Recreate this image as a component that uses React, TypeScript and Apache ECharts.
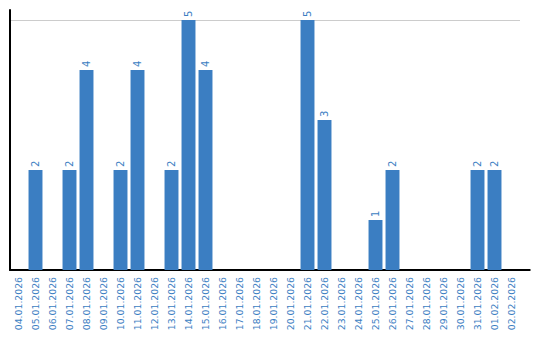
import React, { useEffect, useRef } from "react";
import * as echarts from "echarts";

const categories = [
  "04.01.2026", "05.01.2026", "06.01.2026", "07.01.2026", "08.01.2026",
  "09.01.2026", "10.01.2026", "11.01.2026", "12.01.2026", "13.01.2026",
  "14.01.2026", "15.01.2026", "16.01.2026", "17.01.2026", "18.01.2026",
  "19.01.2026", "20.01.2026", "21.01.2026", "22.01.2026", "23.01.2026",
  "24.01.2026", "25.01.2026", "26.01.2026", "27.01.2026", "28.01.2026",
  "29.01.2026", "30.01.2026", "31.01.2026", "01.02.2026", "02.02.2026",
];
const values = [
  0, 2, 0, 2, 4,
  0, 2, 4, 0, 2,
  5, 4, 0, 0, 0,
  0, 0, 5, 3, 0,
  0, 1, 2, 0, 0,
  0, 0, 2, 2, 0,
];
const yTicks = [5];

const BLUE = "#3b7ec2";
const FONT = "DejaVu Sans";

export default function App() {
  const ref = useRef<HTMLDivElement>(null);
  useEffect(() => {
    if (!ref.current) return;
    const chart = echarts.init(ref.current, null, { renderer: "svg" });
    chart.setOption({
      animation: false,
      textStyle: { fontFamily: FONT },
      grid: {
        left: 10, top: 10, width: 510, bottom: 70,
        containLabel: false, outerBoundsMode: "none",
      },
      xAxis: {
        type: "category",
        data: categories,
        axisLine: { lineStyle: { color: "#000", width: 2 } },
        axisTick: { show: false },
        axisLabel: {
          interval: 0,
          rotate: 90,
          color: BLUE,
          fontSize: 9.3,
          fontFamily: FONT,
          margin: 7,
        },
      },
      yAxis: {
        type: "value",
        min: 0,
        max: 5.2,
        axisLine: { show: true, lineStyle: { color: "#000", width: 2 } },
        axisTick: { show: false },
        splitLine: { show: false },
        axisLabel: { show: false },
      },
      series: [
        {
          type: "bar",
          data: values,
          barCategoryGap: "18%",
          itemStyle: { color: BLUE },
          label: {
            show: true,
            position: "top",
            rotate: 90,
            align: "left",
            verticalAlign: "middle",
            distance: 3,
            color: BLUE,
            fontSize: 10,
            fontFamily: FONT,
            formatter: (p: any) => (p.value ? String(p.value) : ""),
          },
          markLine: {
            silent: true,
            symbol: "none",
            label: { show: false },
            lineStyle: { color: "#cccccc", type: "solid", width: 1 },
            data: yTicks.map((v) => ({ yAxis: v })),
            z: 0,
          },
          z: 2,
        },
      ],
    });
    const axisEnd = chart.convertToPixel({ xAxisIndex: 0 }, categories[categories.length - 1]) as number;
    const y0 = chart.convertToPixel({ yAxisIndex: 0 }, 0) as number;
    const yLabelElems = yTicks.map((v) => {
      const py = chart.convertToPixel({ yAxisIndex: 0 }, v) as number;
      return {
        type: "group",
        x: 4,
        y: py,
        rotation: Math.PI / 2,
        silent: true,
        z: 100,
        children: [
          {
            type: "text",
            x: 0,
            y: 0,
            style: {
              text: String(v),
              fill: "#000000",
              fontSize: 9,
              fontFamily: FONT,
              align: "right",
              verticalAlign: "middle",
            },
          },
        ],
      };
    });
    chart.setOption({
      graphic: [
        {
          type: "line",
          shape: { x1: axisEnd, y1: y0, x2: axisEnd + 19, y2: y0 },
          style: { stroke: "#000", lineWidth: 2 },
          silent: true,
        },
        ...yLabelElems,
      ],
    });
    return () => chart.dispose();
  }, []);
  return <div ref={ref} style={{ width: 540, height: 340, margin: -8 }} />;
}
